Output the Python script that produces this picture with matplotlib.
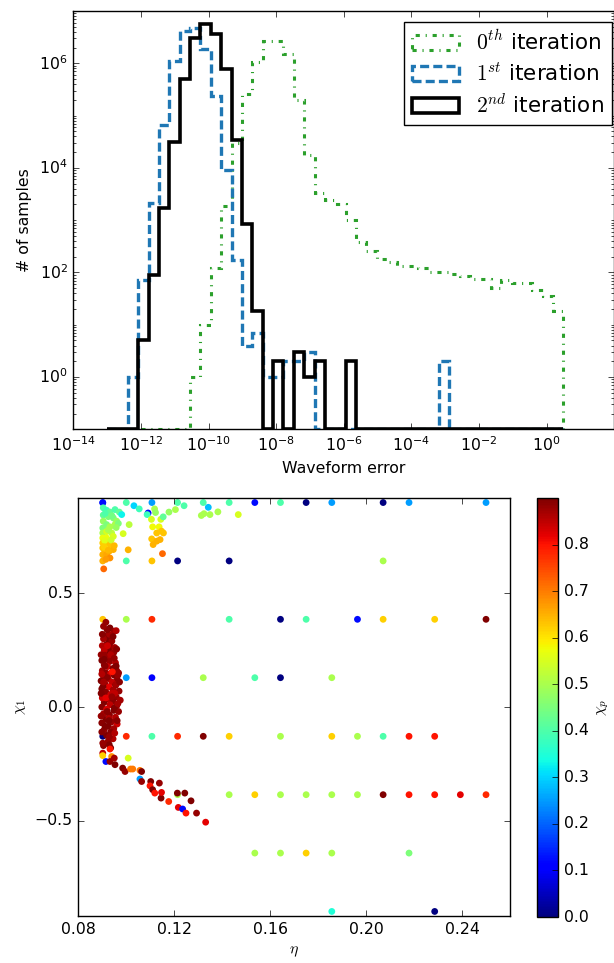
import numpy as np
import matplotlib
matplotlib.use('Agg')
import matplotlib.pyplot as plt
from matplotlib.patches import Patch
from matplotlib.ticker import FixedLocator, LogLocator, NullLocator, NullFormatter

plt.style.use('classic')
plt.rcParams['font.size'] = 11.3
plt.rcParams['lines.scale_dashes'] = False

# ---- histogram data (counts per log-spaced bin, 1e-13 .. 10^0.5) ----
bin_edges = np.logspace(-13, 0.5, 45)
counts_0th = [0, 0, 0, 0, 0, 0, 0, 0, 1, 10, 120, 1830, 30000, 2.6e5, 1.04e6,
              2.7e6, 2.7e6, 1.5e6, 2.0e5, 18000, 3300, 2450, 2040, 1000, 375,
              260, 180, 155, 133, 130, 122, 100, 100, 93, 85, 74, 74, 50, 72,
              62, 62, 46, 35, 18]
counts_1st = [0, 0, 1, 72, 2100, 67000, 1.1e6, 4.2e6, 4.7e6, 1.9e6, 2.4e5, 9300,
              174, 4, 7, 1, 1, 2, 2, 3, 0, 0, 0, 0, 0, 0, 0, 0, 0, 0, 0, 0, 2,
              0, 0, 0, 0, 0, 0, 0, 0, 0, 0, 0]
counts_2nd = [0, 0, 0, 5, 88, 1700, 31000, 4.9e5, 3.0e6, 5.6e6, 3.6e6, 7.9e5,
              34000, 840, 18, 0, 2, 0, 3, 1, 2, 0, 0, 2, 0, 0, 0, 0, 0, 0, 0, 0,
              0, 0, 0, 0, 0, 0, 0, 0, 0, 0, 0, 0]
hist_labels = ['$0^{th}$ iteration', '$1^{st}$ iteration', '$2^{nd}$ iteration']

# ---- scatter data: eta, chi_1, chi_p ----
# regular grid of runs
grid_eta = [0.0902, 0.1000, 0.1107, 0.1214, 0.1321, 0.1429, 0.1536, 0.1643, 0.1750, 0.1857, 0.2071, 0.2179, 0.2500,
            0.0902, 0.1000, 0.1107, 0.1214, 0.1429, 0.2071,
            0.0902, 0.1000, 0.1107, 0.1429, 0.1643, 0.1750, 0.1964, 0.2071, 0.2286, 0.2500,
            0.1000, 0.1107, 0.1321, 0.1536, 0.1643, 0.1857,
            0.0902, 0.1000, 0.1107, 0.1214, 0.1321, 0.1429, 0.1643, 0.1857, 0.1964, 0.2071, 0.2179, 0.2286,
            0.1214, 0.1429, 0.1536, 0.1643, 0.1750, 0.1857, 0.1964, 0.2071, 0.2179, 0.2286, 0.2393, 0.2500,
            0.1536, 0.1643, 0.1750, 0.1857, 0.2179,
            0.1857, 0.2286]
grid_chi1 = [0.900] * 13 + [0.643] * 6 + [0.386] * 10 + [0.129] * 6 + \
            [-0.129] * 12 + [-0.386] * 12 + [-0.643] * 5 + [-0.900] * 2
grid_chip = [0.15, 0.40, 0.25, 0.40, 0.40, 0.40, 0.12, 0.40, 0.00, 0.25, 0.00, 0.25, 0.25,
             0.65, 0.40, 0.63, 0.00, 0.00, 0.50,
             0.63, 0.50, 0.78, 0.40, 0.00, 0.40, 0.12, 0.62, 0.62, 0.90,
             0.25, 0.10, 0.50, 0.40, 0.00, 0.50,
             0.00, 0.78, 0.40, 0.78, 0.90, 0.62, 0.50, 0.62, 0.50, 0.40, 0.80, 0.80,
             0.50, 0.50, 0.62, 0.50, 0.50, 0.50, 0.50, 0.90, 0.80, 0.80, 0.82, 0.78,
             0.50, 0.50, 0.62, 0.50, 0.45,
             0.35, 0.00]

# high-spin cluster (upper left)
top_eta = [0.0902, 0.0904, 0.0918, 0.0932, 0.0953, 0.0971, 0.0981, 0.0904, 0.0925, 0.0946,
           0.0960, 0.0904, 0.0918, 0.0932, 0.0902, 0.0953, 0.0967, 0.0902, 0.0918, 0.0939,
           0.0946, 0.0902, 0.0918, 0.0987, 0.1012, 0.0902, 0.0918, 0.0932, 0.0902, 0.0911,
           0.0929, 0.0946, 0.0902, 0.0918, 0.0932, 0.0906, 0.1008, 0.1032, 0.1054, 0.1091,
           0.1087, 0.1118, 0.1122, 0.1105, 0.1144, 0.1110, 0.1137, 0.1127, 0.1147, 0.1155,
           0.1106, 0.1127, 0.1141, 0.1112, 0.1151, 0.1154, 0.1178, 0.1205, 0.1241, 0.1313,
           0.1324, 0.1349, 0.1342, 0.1382, 0.1467,
           0.0912, 0.0940, 0.0925, 0.0958, 0.0910, 0.0937, 0.0908, 0.0950, 0.0925, 0.0915]
top_chi1 = [0.899, 0.877, 0.866, 0.858, 0.869, 0.858, 0.847, 0.845, 0.838, 0.832,
            0.818, 0.818, 0.803, 0.793, 0.788, 0.803, 0.808, 0.766, 0.772, 0.766,
            0.751, 0.744, 0.744, 0.763, 0.803, 0.722, 0.722, 0.715, 0.700, 0.686,
            0.686, 0.693, 0.671, 0.671, 0.656, 0.608, 0.692, 0.886, 0.872, 0.854,
            0.847, 0.872, 0.856, 0.826, 0.826, 0.793, 0.793, 0.766, 0.774, 0.766,
            0.740, 0.730, 0.737, 0.715, 0.675, 0.837, 0.858, 0.869, 0.886, 0.843,
            0.851, 0.847, 0.879, 0.859, 0.847,
            0.852, 0.842, 0.780, 0.790, 0.733, 0.735, 0.705, 0.710, 0.690, 0.650]
top_chip = [0.12, 0.40, 0.38, 0.42, 0.40, 0.42, 0.33, 0.42, 0.45, 0.45,
            0.48, 0.48, 0.45, 0.50, 0.45, 0.50, 0.45, 0.50, 0.55, 0.52,
            0.55, 0.57, 0.57, 0.55, 0.52, 0.62, 0.63, 0.63, 0.63, 0.63,
            0.65, 0.65, 0.65, 0.66, 0.68, 0.72, 0.65, 0.30, 0.38, 0.10,
            0.38, 0.50, 0.48, 0.55, 0.55, 0.58, 0.58, 0.63, 0.63, 0.63,
            0.63, 0.65, 0.65, 0.65, 0.72, 0.42, 0.48, 0.50, 0.40, 0.50,
            0.50, 0.50, 0.28, 0.50, 0.55,
            0.40, 0.44, 0.50, 0.48, 0.56, 0.54, 0.62, 0.64, 0.64, 0.67]

# low-eta cluster (dark red)
low_eta = [0.0915, 0.0932, 0.0950, 0.0958, 0.0912, 0.0926, 0.0905, 0.0940, 0.0918, 0.0900,
           0.0935, 0.0948, 0.0925, 0.0908, 0.0940, 0.0915, 0.0898, 0.0930, 0.0955, 0.0908,
           0.0922, 0.0945, 0.0960, 0.0900, 0.0915, 0.0935, 0.0950, 0.0905, 0.0925, 0.0962,
           0.0895, 0.0940, 0.0912, 0.0955, 0.0928, 0.0898, 0.0945, 0.0970, 0.0915, 0.0935,
           0.0902, 0.0958, 0.0925, 0.0945, 0.0975, 0.0908, 0.0932, 0.0960, 0.0898, 0.0918,
           0.0948, 0.0968, 0.0905, 0.0930, 0.0955, 0.0915, 0.0940, 0.0898, 0.0962, 0.0925,
           0.0948, 0.0908, 0.0935, 0.0918, 0.0945, 0.0925, 0.0905, 0.0935, 0.0910, 0.0952,
           0.0920, 0.0942, 0.0903, 0.0965, 0.0928, 0.0912, 0.0950, 0.0900, 0.0938, 0.0958,
           0.0895, 0.0960, 0.0930, 0.0945, 0.0898, 0.0968, 0.0972, 0.0895, 0.0965, 0.0895,
           0.0920, 0.0952, 0.0908, 0.0935, 0.0950, 0.0920, 0.0905, 0.0962, 0.0912, 0.0930,
           0.0952, 0.0898, 0.0915, 0.0942, 0.0922, 0.0958, 0.0900, 0.0940, 0.0905, 0.0928]
low_chi1 = [0.373, 0.348, 0.334, 0.336, 0.312, 0.297, 0.300, 0.290, 0.275, 0.270,
            0.265, 0.240, 0.245, 0.250, 0.222, 0.215, 0.205, 0.200, 0.195, 0.185,
            0.178, 0.170, 0.160, 0.160, 0.150, 0.148, 0.140, 0.135, 0.125, 0.120,
            0.115, 0.110, 0.100, 0.095, 0.088, 0.080, 0.075, 0.070, 0.065, 0.055,
            0.048, 0.045, 0.035, 0.025, 0.030, 0.020, 0.010, 0.005, 0.000, -0.010,
            -0.015, -0.020, -0.030, -0.035, -0.045, -0.055, -0.065, -0.070, -0.075, -0.085,
            -0.095, -0.100, -0.110, -0.125, -0.140, -0.150, -0.170, -0.180, 0.228, 0.262,
            0.130, 0.060, 0.090, 0.140, -0.050, 0.180, -0.005, 0.040, 0.235, 0.100,
            0.230, 0.255, 0.320, 0.310, 0.145, 0.150, 0.110, 0.060, 0.015, -0.040,
            -0.020, 0.060, 0.210, 0.230, 0.215, 0.340, 0.355, -0.060, -0.085, -0.130,
            -0.115, -0.110, 0.040, 0.155, 0.270, 0.180, 0.320, 0.045, 0.110, -0.060]
low_chip = [0.88, 0.90, 0.88, 0.86, 0.89, 0.90, 0.87, 0.88, 0.90, 0.86,
            0.89, 0.88, 0.90, 0.85, 0.89, 0.87, 0.90, 0.88, 0.86, 0.89,
            0.84, 0.90, 0.88, 0.87, 0.89, 0.83, 0.90, 0.88, 0.86, 0.89,
            0.90, 0.85, 0.88, 0.89, 0.82, 0.90, 0.87, 0.88, 0.89, 0.84,
            0.90, 0.88, 0.86, 0.89, 0.87, 0.90, 0.85, 0.88, 0.89, 0.83,
            0.90, 0.88, 0.87, 0.89, 0.86, 0.90, 0.88, 0.89, 0.84, 0.90,
            0.87, 0.88, 0.89, 0.90, 0.86, 0.88, 0.89, 0.90, 0.88, 0.87,
            0.89, 0.85, 0.90, 0.88, 0.86, 0.89, 0.90, 0.84, 0.88, 0.87,
            0.88, 0.89, 0.87, 0.90, 0.86, 0.88, 0.89, 0.90, 0.87, 0.88,
            0.89, 0.85, 0.90, 0.86, 0.88, 0.89, 0.88, 0.89, 0.90, 0.88,
            0.86, 0.89, 0.82, 0.80, 0.84, 0.90, 0.89, 0.88, 0.87, 0.90]

# trail towards higher eta / negative chi_1
trail_eta = [0.0902, 0.0929, 0.0932, 0.0902, 0.0902, 0.0915, 0.0939, 0.0932, 0.0953, 0.0950,
             0.1008, 0.0985, 0.0995, 0.1018, 0.1027, 0.1057, 0.1064, 0.1057, 0.1064, 0.1102,
             0.1099, 0.1110, 0.1119, 0.1138, 0.1145, 0.1147, 0.1177, 0.1213, 0.1244, 0.1217,
             0.1235, 0.1249, 0.1270, 0.1293, 0.1331]
trail_chi1 = [-0.159, -0.166, -0.185, -0.203, -0.214, -0.240, -0.218, -0.240, -0.254, -0.225,
              -0.225, -0.269, -0.284, -0.273, -0.273, -0.279, -0.284, -0.317, -0.328, -0.328,
              -0.347, -0.364, -0.379, -0.335, -0.401, -0.376, -0.416, -0.379, -0.379, -0.442,
              -0.449, -0.467, -0.413, -0.467, -0.507]
trail_chip = [0.88, 0.90, 0.80, 0.85, 0.62, 0.12, 0.68, 0.88, 0.90, 0.87,
              0.55, 0.90, 0.88, 0.70, 0.70, 0.70, 0.90, 0.25, 0.88, 0.90,
              0.80, 0.90, 0.80, 0.88, 0.90, 0.82, 0.78, 0.90, 0.90, 0.82,
              0.12, 0.80, 0.90, 0.88, 0.82]

eta = grid_eta + top_eta + low_eta + trail_eta
chi1 = grid_chi1 + top_chi1 + low_chi1 + trail_chi1
chip = grid_chip + top_chip + low_chip + trail_chip

W, H = 614.0, 963.0
fig = plt.figure(figsize=(6.14, 9.63), dpi=100, facecolor='white')

# ---------------- top: histogram of waveform errors ----------------
ax1 = fig.add_axes([73.3 / W, 1 - 429.3 / H, (613.8 - 73.3) / W, (429.3 - 11) / H])
styles = [dict(edgecolor='#2ca02c', linestyle=(0, (3, 4.2, 0.8, 4.2)), lw=2.2),
          dict(edgecolor='#1f77b4', linestyle=(0, (6.5, 3)), lw=2.4),
          dict(edgecolor='k', linestyle='-', lw=2.6)]
handles = []
for c, lab, st in zip([counts_0th, counts_1st, counts_2nd], hist_labels, styles):
    vals = np.clip(np.array(c, dtype=float), 0.1, None)
    ax1.stairs(vals, bin_edges, baseline=0.1, fill=False, **st)
    handles.append(Patch(facecolor='none', label=lab, **st))
ax1.set_xscale('log')
ax1.set_yscale('log')
ax1.set_xlim(1e-14, 10 ** 1.99)
ax1.set_ylim(0.1, 1e7)
ax1.xaxis.set_major_locator(FixedLocator([1e-14, 1e-12, 1e-10, 1e-8, 1e-6, 1e-4, 1e-2, 1e0]))
ax1.xaxis.set_minor_locator(NullLocator())
ax1.yaxis.set_major_locator(FixedLocator([1e0, 1e2, 1e4, 1e6]))
ax1.yaxis.set_minor_locator(LogLocator(base=10, subs=np.arange(1, 10), numticks=50))
ax1.yaxis.set_minor_formatter(NullFormatter())
ax1.set_xlabel('Waveform error')
ax1.set_ylabel('# of samples')
ax1.legend(handles=handles, loc='upper right', bbox_to_anchor=(611.7 / W, 1 - 22 / H),
           bbox_transform=fig.transFigure, borderaxespad=0, fontsize=15.5,
           handlelength=2.2, handletextpad=0.8, borderpad=0.35, labelspacing=0.4)

# ---------------- bottom: eta vs chi_1 coloured by chi_p ----------------
ax2 = fig.add_axes([78.3 / W, 1 - 916 / H, (510 - 78.3) / W, (916 - 498) / H])
sc = ax2.scatter(eta, chi1, c=chip, cmap='jet', vmin=0.0, vmax=0.9, s=24,
                 edgecolors='face', linewidths=0)
ax2.set_xlim(0.08, 0.26)
ax2.set_ylim(-0.92, 0.92)
ax2.set_xticks([0.08, 0.12, 0.16, 0.20, 0.24])
ax2.set_yticks([-0.5, 0.0, 0.5])
ax2.set_xlabel(r'$\eta$')
ax2.set_ylabel(r'$\chi_1$')

cax = fig.add_axes([537 / W, 1 - 917 / H, 21 / W, (917 - 498) / H])
cb = fig.colorbar(sc, cax=cax, ticks=[0.0, 0.1, 0.2, 0.3, 0.4, 0.5, 0.6, 0.7, 0.8])
cb.set_label(r'$\chi_p$')

fig.savefig('out.png', dpi=100, facecolor='white')
